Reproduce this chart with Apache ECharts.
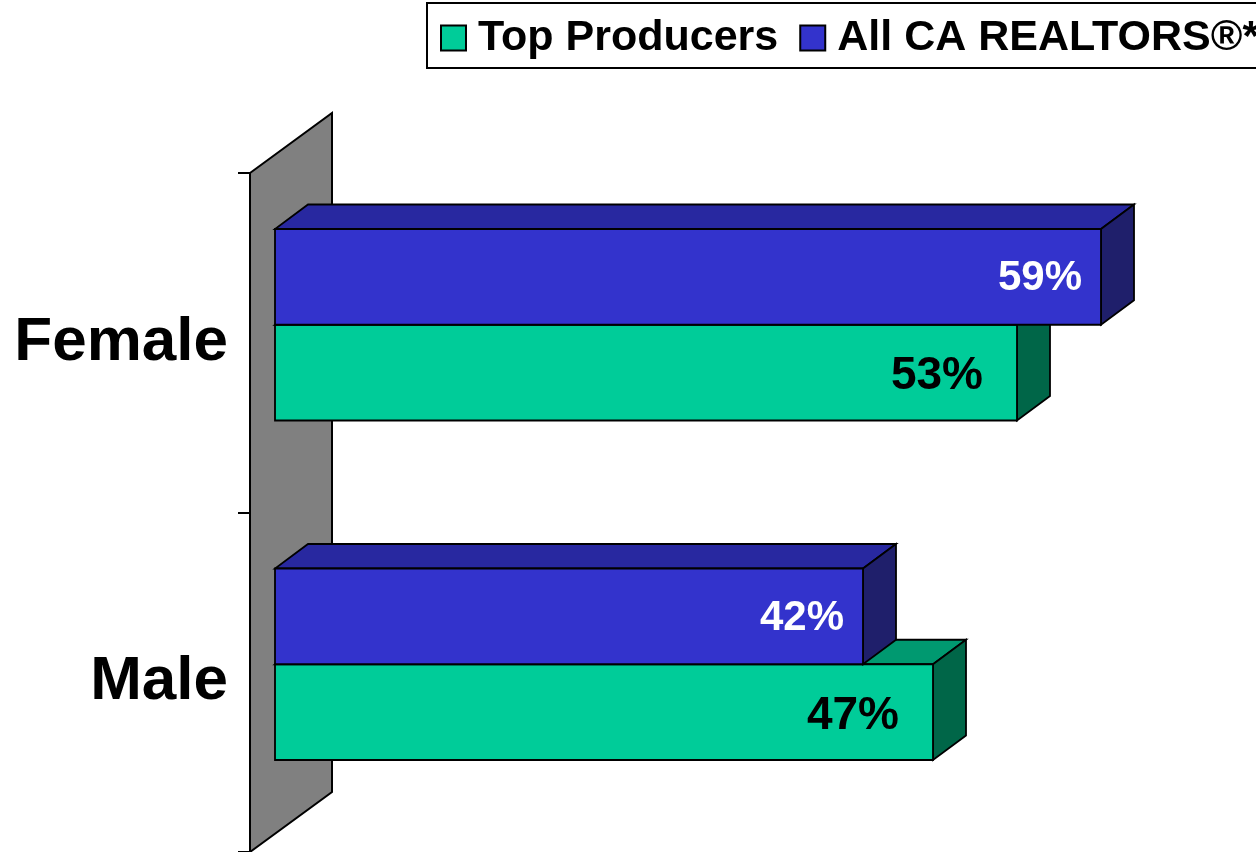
<!DOCTYPE html>
<html>
<head>
<meta charset="utf-8">
<title>Gender: Top Producers vs All CA REALTORS</title>
<script src="https://cdn.jsdelivr.net/npm/echarts@6/dist/echarts.min.js"></script>
<style>
  html, body { margin: 0; padding: 0; background: #fff; }
  #chart { width: 1256px; height: 852px; }
</style>
</head>
<body>
<div id="chart"></div>
<script>
// Categories listed bottom to top
const categories = ['Male', 'Female'];
const topProducers = [47, 53];
const allRealtors = [42, 59];
const seriesNames = ['Top Producers', 'All CA REALTORS®*'];

const FONT = '"Liberation Sans", Arial, Helvetica, sans-serif';

// 3D look: bars sit a little behind the front plane of the wall
const WALL_DX = 82, WALL_DY = -60;
const BAR_SHIFT_X = 25, BAR_SHIFT_Y = -18;
const DEPTH_DX = 33, DEPTH_DY = -24.5;
const BAR_RATIO = 0.282;

const palette = {
  green: { front: '#00CC99', top: '#009970', side: '#006648', text: '#000000', pad: 34, size: 46, dy: 4 },
  blue:  { front: '#3333CC', top: '#2828A0', side: '#1F1F6B', text: '#FFFFFF', pad: 19, size: 42, dy: 2 }
};

function makeBarRenderer(scheme, upper) {
  return function (params, api) {
    const cat = api.value(1);
    const val = api.value(0);
    const base = api.coord([0, cat]);
    const end = api.coord([val, cat]);
    const band = api.size([0, 1])[1];
    const h = band * BAR_RATIO;
    const x0 = base[0] + BAR_SHIFT_X;
    const x1 = end[0] + BAR_SHIFT_X;
    const cy = base[1] + BAR_SHIFT_Y;
    const yTop = upper ? cy - h : cy;
    const yBot = upper ? cy : cy + h;
    const stroke = { stroke: '#000', lineWidth: 1.8, lineJoin: 'miter' };
    return {
      type: 'group',
      children: [
        {
          type: 'polygon',
          shape: { points: [[x0, yTop], [x1, yTop], [x1 + DEPTH_DX, yTop + DEPTH_DY], [x0 + DEPTH_DX, yTop + DEPTH_DY]] },
          style: Object.assign({ fill: scheme.top }, stroke)
        },
        {
          type: 'polygon',
          shape: { points: [[x1, yTop], [x1 + DEPTH_DX, yTop + DEPTH_DY], [x1 + DEPTH_DX, yBot + DEPTH_DY], [x1, yBot]] },
          style: Object.assign({ fill: scheme.side }, stroke)
        },
        {
          type: 'rect',
          shape: { x: x0, y: yTop, width: x1 - x0, height: yBot - yTop },
          style: Object.assign({ fill: scheme.front }, stroke)
        },
        {
          type: 'text',
          x: x1 - scheme.pad,
          y: (yTop + yBot) / 2 + scheme.dy,
          style: {
            text: Math.round(val) + '%',
            fill: scheme.text,
            font: 'bold ' + scheme.size + 'px ' + FONT,
            align: 'right',
            verticalAlign: 'middle'
          }
        }
      ]
    };
  };
}

const chart = echarts.init(document.getElementById('chart'), null, { renderer: 'canvas' });

chart.setOption({
  backgroundColor: '#ffffff',
  animation: false,
  legend: {
    data: seriesNames,
    left: 427,
    top: 3,
    width: 950,
    orient: 'horizontal',
    icon: 'rect',
    itemWidth: 25,
    itemHeight: 25,
    itemGap: 21,
    padding: [10, 13, 5, 13],
    borderColor: '#000',
    borderWidth: 2,
    backgroundColor: '#fff',
    textStyle: {
      color: '#000',
      fontFamily: FONT,
      fontWeight: 'bold',
      fontSize: 43,
      lineHeight: 50,
      padding: [0, 0, 0, 7]
    }
  },
  grid: {
    left: 250,
    top: 173,
    width: 840,
    height: 684,
    containLabel: false
  },
  xAxis: {
    type: 'value',
    min: 0,
    max: 60,
    show: false
  },
  yAxis: {
    type: 'category',
    data: categories,
    boundaryGap: true,
    axisLine: { show: true, lineStyle: { color: '#000', width: 2 } },
    axisTick: { show: true, length: 12, lineStyle: { color: '#000', width: 2 } },
    axisLabel: {
      margin: 22,
      color: '#000',
      fontFamily: FONT,
      fontWeight: 'bold',
      fontSize: 62
    },
    splitLine: { show: false },
    z: 5
  },
  series: [
    {
      // grey back wall behind the bars
      type: 'custom',
      name: 'wall',
      silent: true,
      z: 1,
      data: [[0, 0]],
      renderItem: function (params, api) {
        const cs = params.coordSys;
        return {
          type: 'polygon',
          shape: {
            points: [
              [cs.x, cs.y],
              [cs.x + WALL_DX, cs.y + WALL_DY],
              [cs.x + WALL_DX, cs.y + cs.height + WALL_DY],
              [cs.x, cs.y + cs.height]
            ]
          },
          style: { fill: '#808080', stroke: '#000', lineWidth: 2 }
        };
      }
    },
    {
      type: 'custom',
      name: seriesNames[0],
      z: 2,
      itemStyle: { color: palette.green.front, borderColor: '#000', borderWidth: 1.5 },
      encode: { x: 0, y: 1 },
      data: topProducers.map((v, i) => [v, i]),
      renderItem: makeBarRenderer(palette.green, false)
    },
    {
      type: 'custom',
      name: seriesNames[1],
      z: 3,
      itemStyle: { color: palette.blue.front, borderColor: '#000', borderWidth: 1.5 },
      encode: { x: 0, y: 1 },
      data: allRealtors.map((v, i) => [v, i]),
      renderItem: makeBarRenderer(palette.blue, true)
    }
  ]
});
</script>
</body>
</html>
